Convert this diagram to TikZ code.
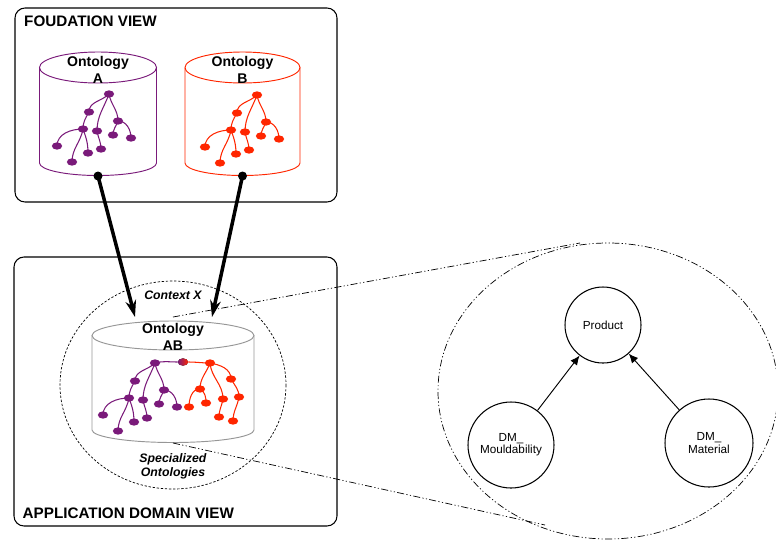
\documentclass[tikz,border=0pt]{standalone}
\usepackage{fontspec}
\setmainfont{Liberation Sans}
\usetikzlibrary{arrows.meta,positioning,shapes.geometric}
\definecolor{ontpurple}{RGB}{122,26,122}
\definecolor{ontred}{RGB}{255,38,0}
\definecolor{cylgray}{RGB}{150,150,150}

\begin{document}
\begin{tikzpicture}[x=0.03cm, y=-0.03cm,
    view/.style={draw, line width=0.9pt, rounded corners=0.3cm},
    viewtitle/.style={anchor=west, inner sep=0, font=\fontsize{13}{15}\selectfont\bfseries},
    dbname/.style={align=center, inner sep=0, font=\fontsize{12}{15}\selectfont\bfseries},
    ctxlabel/.style={align=center, inner sep=0, font=\fontsize{10.5}{12}\selectfont\bfseries\itshape},
    tnode/.style={ellipse, fill, inner sep=0, minimum width=0.31cm, minimum height=0.22cm},
    tedge/.style={line width=0.9pt},
    port/.style={circle, fill=black, inner sep=0, minimum size=0.27cm},
    link/.style={line width=3pt, -{Stealth[length=0.5cm, width=0.32cm]}},
    zoomline/.style={line width=0.6pt, dash pattern=on 6pt off 2pt on 1pt off 2pt on 1pt off 2pt},
    concept/.style={circle, draw, line width=0.9pt, inner sep=0, align=center, font=\fontsize{10}{10.5}\selectfont},
]
\useasboundingbox (0,0) rectangle (776,547);

% Views
\draw[view] (15,8) rectangle (337,202);
\node[viewtitle] (foundation) at (24,21.3) {FOUDATION VIEW};
\draw[view] (14,257) rectangle (337,526);
\node[viewtitle] (application) at (22.5,513.5) {APPLICATION DOMAIN VIEW};

% Ontology A
\draw[ontpurple, line width=0.8pt] (98,67.5) ellipse [x radius=58.5, y radius=15.5];
\draw[ontpurple, line width=0.8pt] (39.5,67.5) -- (39.5,163)
    arc[start angle=180, end angle=0, x radius=58.5, y radius=12.5] -- (156.5,67.5);
\node[dbname] (nameA) at (98,70) {Ontology\\A};
\begin{scope}[shift={(109,94)}, ontpurple]
\foreach \n/\x/\y in {0/0/0, 1/-20/18, 2/-12/37, 3/9/27, 4/-26/35, 5/-52/52, 6/-37/68, 7/-21/59, 8/-8/55, 9/4/41, 10/22/44}
    \node[tnode] (a\n) at (\x,\y) {};
\foreach \p/\c/\o in {0/1/-135, 0/2/-110, 0/3/-80, 1/4/-120, 4/5/180, 4/6/-100, 4/7/-70, 2/8/-80, 3/9/-110, 3/10/0}
    \draw[tedge] (a\p.center) to[out=\o, in=90] (a\c.center);
\end{scope}

% Ontology B
\draw[ontred, line width=0.8pt] (242.5,67.5) ellipse [x radius=57.5, y radius=15.5];
\draw[ontred, line width=0.8pt] (185,67.5) -- (185,163)
    arc[start angle=180, end angle=0, x radius=57.5, y radius=12.5] -- (300,67.5);
\node[dbname] (nameB) at (242.5,70) {Ontology\\B};
\begin{scope}[shift={(257,95)}, ontred]
\foreach \n/\x/\y in {0/0/0, 1/-20/18, 2/-12/37, 3/9/27, 4/-26/35, 5/-52/52, 6/-37/68, 7/-21/59, 8/-8/55, 9/4/41, 10/22/44}
    \node[tnode] (b\n) at (\x,\y) {};
\foreach \p/\c/\o in {0/1/-135, 0/2/-110, 0/3/-80, 1/4/-120, 4/5/180, 4/6/-100, 4/7/-70, 2/8/-80, 3/9/-110, 3/10/0}
    \draw[tedge] (b\p.center) to[out=\o, in=90] (b\c.center);
\end{scope}

% Context X
\draw[line width=0.6pt, dash pattern=on 2pt off 1.5pt] (173,385) ellipse [x radius=113, y radius=104];
\node[ctxlabel] (context) at (173,295) {Context X};
\node[ctxlabel] (special) at (173,466) {Specialized\\Ontologies};

% Ontology AB
\draw[cylgray, line width=0.8pt] (173,335.5) ellipse [x radius=81, y radius=14.5];
\draw[cylgray, line width=0.8pt] (92,335.5) -- (92,430)
    arc[start angle=180, end angle=0, x radius=81, y radius=12.5] -- (254,335.5);
\node[dbname] (nameAB) at (173,337) {Ontology\\AB};
\begin{scope}[shift={(155,363)}, ontpurple]
\foreach \n/\x/\y in {0/0/0, 1/-20/18, 2/-12/37, 3/9/27, 4/-26/35, 5/-52/52, 6/-37/68, 7/-21/59, 8/-8/55, 9/4/41, 10/22/44}
    \node[tnode] (p\n) at (\x,\y) {};
\foreach \p/\c/\o in {0/1/-135, 0/2/-110, 0/3/-80, 1/4/-120, 4/5/180, 4/6/-100, 4/7/-70, 2/8/-80, 3/9/-110, 3/10/0}
    \draw[tedge] (p\p.center) to[out=\o, in=90] (p\c.center);
\end{scope}
\begin{scope}[shift={(210,363)}, ontred]
\foreach \n/\x/\y in {0/0/0, 1/21/16, 2/-10/26, 3/13/36, 4/-21/44, 5/-4/40, 6/29/34, 7/9/54, 8/23/58}
    \node[tnode] (r\n) at (\x,\y) {};
\foreach \p/\c/\o in {0/2/-110, 0/3/-85, 0/1/-10, 2/4/180, 2/5/-30, 1/6/-60, 3/7/-100, 6/8/-100}
    \draw[tedge] (r\p.center) to[out=\o, in=90] (r\c.center);
\end{scope}
\node[tnode, left color=ontpurple, right color=ontred] (mid) at (183,362) {};
\draw[tedge, ontpurple] (p0.center) to[out=15, in=180] (mid);
\draw[tedge, ontred] (mid) to[out=0, in=180] (r0.center);

% Links from the foundation
\node[port] (portA) at (98,176) {};
\node[port] (portB) at (242.5,176) {};
\coordinate (inA) at (135,317);
\coordinate (inB) at (212,317);
\draw[link] (portA.center) -- (inA);
\draw[link] (portB.center) -- (inB);

% Zoom on the specialized ontologies
\coordinate (zoomtop) at (173,317);
\coordinate (zoombot) at (173,443);
\coordinate (lenstop) at (580,243);
\coordinate (lensbot) at (545,525);
\draw[zoomline] (zoomtop) -- (lenstop);
\draw[zoomline] (zoombot) -- (lensbot);
\draw[zoomline] (608,391) ellipse [x radius=170, y radius=148];

\node[concept, minimum size=2.28cm] (product) at (603,325) {Product};
\node[concept, minimum size=2.58cm] (mould) at (511,445) {DM\_\\Mouldability};
\node[concept, minimum size=2.64cm] (material) at (709,443) {DM\_\\Material};
\draw[line width=0.8pt, -{Latex[length=8pt, width=7pt]}] (mould) -- (product);
\draw[line width=0.8pt, -{Latex[length=8pt, width=7pt]}] (material) -- (product);
\end{tikzpicture}
\end{document}
